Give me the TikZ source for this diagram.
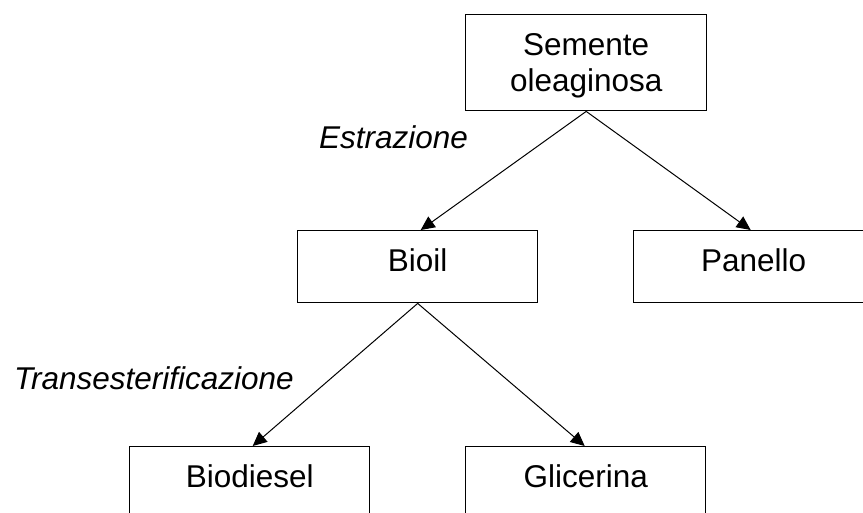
\documentclass[tikz,border=0pt]{standalone}
\usepackage{fontspec}
\setmainfont{Liberation Sans}
\usetikzlibrary{arrows.meta}
\tikzset{
  box/.style={draw=black, line width=1.4pt, minimum width=240pt, minimum height=72pt,
    inner sep=0pt, anchor=north west, font=\fontsize{31.5}{36}\selectfont,
    text height=22.5pt, text depth=12.5pt},
  procarrow/.style={draw=black, line width=1pt, -{Triangle[length=14pt,width=13pt]}},
  proclabel/.style={anchor=base west, inner sep=0pt, font=\fontsize{31.5}{36}\selectfont\itshape}
}
\begin{document}
\begin{tikzpicture}[x=1pt,y=-1pt]
  \clip (0,0) rectangle (863,513);
  \fill[white] (0,0) rectangle (863,513);
  \node[box, minimum width=241pt, minimum height=96pt, align=center,
        text height=59pt, text depth=1pt] (seme) at (465,14) {Semente\\oleaginosa};
  \node[box] (bioil) at (297,230) {Bioil};
  \node[box] (panello) at (633,230) {Panello};
  \node[box] (biodiesel) at (129,446) {Biodiesel};
  \node[box] (glicerina) at (465,446) {Glicerina};
  \node[proclabel] (estr) at (319,149) {Estrazione};
  \node[proclabel] (trans) at (14,389) {Transesterificazione};
  \draw[procarrow] (seme.south) -- ([xshift=3pt]bioil.north);
  \draw[procarrow] (seme.south) -- ([xshift=-3pt]panello.north);
  \draw[procarrow] (bioil.south) -- ([xshift=3pt]biodiesel.north);
  \draw[procarrow] (bioil.south) -- ([xshift=-1pt]glicerina.north);
\end{tikzpicture}
\end{document}
